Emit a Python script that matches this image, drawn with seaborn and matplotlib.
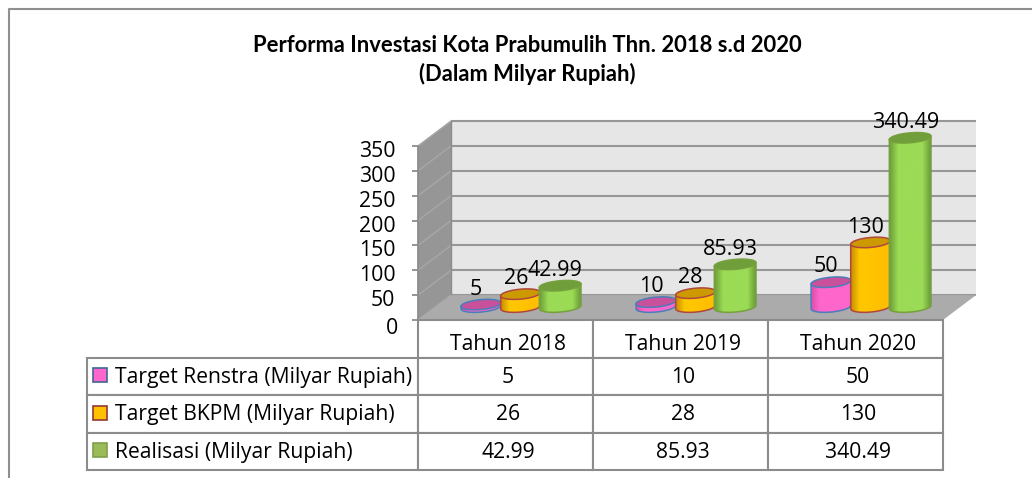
import numpy as np
import pandas as pd
import matplotlib
matplotlib.use('Agg')
import matplotlib.pyplot as plt
import seaborn as sns
from matplotlib.colors import LinearSegmentedColormap
from matplotlib.lines import Line2D
from matplotlib.patches import Polygon, Rectangle
from matplotlib.transforms import Affine2D

categories = ['Tahun 2018', 'Tahun 2019', 'Tahun 2020']
series_names = ['Target Renstra (Milyar Rupiah)', 'Target BKPM (Milyar Rupiah)', 'Realisasi (Milyar Rupiah)']
renstra = [5, 10, 50]
bkpm = [26, 28, 130]
realisasi = [42.99, 85.93, 340.49]
value_labels = [['5', '10', '50'], ['26', '28', '130'], ['42.99', '85.93', '340.49']]
y_ticks = [0, 50, 100, 150, 200, 250, 300, 350]

# body gradient (dark, light, dark), top ellipse, outline, legend key
body_colors = [['#d84fa8', '#ff66cc', '#ff66cc'], ['#c88f00', '#ffc800', '#ffbf00'], ['#6b9a38', '#9bdb55', '#6b9a38']]
top_colors = ['#c9509b', '#cc9900', '#6f9e3a']
edge_colors = ['#4a7ebb', '#b0473f', '#76a03e']
key_colors = ['#ff66cc', '#ffc000', '#9bbb59']
key_edges = ['#3f6797', '#953735', '#7f9f4a']

W, H = 1032, 478
sns.set_theme(style='white')
plt.rcParams['font.family'] = ['Open Sans', 'DejaVu Sans']

df = pd.DataFrame({
    'tahun': categories * 3,
    'seri': [s for s in series_names for _ in categories],
    'nilai': renstra + bkpm + realisasi,
})

fig = plt.figure(figsize=(W / 100, H / 100), dpi=100, facecolor='white')
ax = fig.add_axes([418 / W, 1 - 320 / H, 525 / W, 174 / H])
sns.barplot(data=df, x='tahun', y='nilai', hue='seri', hue_order=series_names, order=categories,
            width=0.68, gap=0, legend=False, ax=ax, zorder=5)
ax.set_xlim(-0.5, 2.5)
ax.set_ylim(0, 350)
ax.patch.set_visible(False)
for s in ax.spines.values():
    s.set_visible(False)
ax.set_xlabel('')
ax.set_ylabel('')

# fake depth, in data units
dep_x = 33 / 175
dep_y = 50
x0, x1 = -0.5, 2.5
grid_c = '#979797'

ax.add_patch(Polygon([(x0 + dep_x, dep_y), (x1 + dep_x, dep_y), (x1 + dep_x, 350 + dep_y), (x0 + dep_x, 350 + dep_y)],
                     fc='#e6e6e6', ec='none', zorder=1, clip_on=False))
ax.add_patch(Polygon([(x0, 0), (x0 + dep_x, dep_y), (x0 + dep_x, 350 + dep_y), (x0, 350)],
                     fc='#969696', ec='none', zorder=1, clip_on=False))
ax.add_patch(Polygon([(x0, 0), (x1, 0), (x1 + dep_x, dep_y), (x0 + dep_x, dep_y)],
                     fc='#ababab', ec='none', zorder=2, clip_on=False))
for t in y_ticks:
    ax.plot([x0 + dep_x, x1 + dep_x], [t + dep_y, t + dep_y], color=grid_c, lw=1.5, zorder=1.5, clip_on=False, solid_capstyle='butt')
    ax.plot([x0, x0 + dep_x], [t, t + dep_y], color='#a6a6a6', lw=1.1, zorder=1.5, clip_on=False)
ax.plot([x0, x0], [0, 350], color='#8c8c8c', lw=1.3, zorder=3, clip_on=False)
ax.plot([x0 + dep_x, x0 + dep_x], [dep_y, 350 + dep_y], color='#8c8c8c', lw=1, zorder=1.6, clip_on=False)

ax.set_xticks([])
ax.set_yticks(y_ticks)
ax.set_yticklabels([str(t) for t in y_ticks], fontsize=15.3, color='black')
ax.tick_params(axis='y', left=True, length=4.3, width=1.3, color='#8c8c8c', pad=12)
for lab, t in zip(ax.get_yticklabels(), y_ticks):
    lab.set_transform(lab.get_transform() + Affine2D().translate(3 if t == 0 else 0, -6 if t == 0 else -3))

# cylinders: seaborn gives the bars, shade them and add the ellipses on top
shift = Affine2D().translate(0.086, 26) + ax.transData
tt = np.linspace(0, 2 * np.pi, 80)
for i, cont in enumerate(ax.containers):
    cmap = LinearSegmentedColormap.from_list('c%d' % i, [(0, body_colors[i][0]), (0.22, body_colors[i][1]),
                                                         (0.8, body_colors[i][2] if i < 2 else body_colors[i][1]),
                                                         (1, body_colors[i][2])])
    for j, bar in enumerate(cont.patches):
        if i == 2:
            bar.set_x(bar.get_x() - 0.006)
            bar.set_width(bar.get_width() * 1.05)
        bar.set_transform(shift)
        bar.set_clip_on(False)
        bar.set_facecolor(body_colors[i][1])
        bar.set_edgecolor('none')
        cx = bar.get_x() + bar.get_width() / 2
        a = bar.get_width() / 2
        v = bar.get_height()
        b, tilt = 10, 3.5  # ellipse half height and slant, data units
        z = 6 + i * 0.1
        low = tt[(tt >= np.pi) & (tt <= 2 * np.pi)]
        xs = np.r_[cx + a * np.cos(low), cx + a, cx - a]
        ys = np.r_[b * np.sin(low) + tilt * np.cos(low), v + tilt, v - tilt]
        body = Polygon(np.c_[xs, ys], transform=shift, fc='none', ec=edge_colors[i], lw=1.1, zorder=z + 0.02, clip_on=False)
        ax.add_patch(body)
        im = ax.imshow(np.linspace(0, 1, 128)[None, :], cmap=cmap, aspect='auto',
                       extent=(cx - a, cx + a, -20, v + 20), transform=shift, zorder=z)
        im.set_clip_box(fig.bbox)
        im.set_clip_path(Polygon(np.c_[xs, ys], transform=shift))
        top = np.c_[cx + a * np.cos(tt), v + b * np.sin(tt) + tilt * np.cos(tt)]
        ax.add_patch(Polygon(top, transform=shift, fc=top_colors[i], ec=edge_colors[i], lw=1.1, zorder=z + 0.03, clip_on=False))
        ax.annotate(value_labels[i][j], xy=(cx, v), xycoords=shift, xytext=(-3.5, 11), textcoords='offset points',
                    ha='center', va='center', fontsize=15.5, color='black', zorder=20, annotation_clip=False)
ax.set_xlim(-0.5, 2.5)
ax.set_ylim(0, 350)

# data table under the plot
rows = [[''] + categories]
for name, vals in zip(series_names, value_labels):
    rows.append([name] + vals)
tb = ax.table(cellText=rows, cellLoc='center', colWidths=[331 / 525, 175 / 525, 175 / 525, 175 / 525],
              bbox=[(87 - 418) / 525, -150 / 174, 856 / 525, 150 / 174], zorder=4)
tb.auto_set_font_size(False)
for (r, c), cell in tb.get_celld().items():
    cell.set_edgecolor('#8c8c8c')
    cell.set_linewidth(1.5)
    cell.set_facecolor('white')
    cell.get_text().set_fontsize(15.2)
    cell.get_text().set_color('black')
    cell.get_text().set_transform(Affine2D().translate(0 if c == 0 else 2.5, -5.5 if r == 0 else -1))
    if c == 0:
        cell.PAD = 28 / 331
        cell.get_text().set_ha('left')
tb[0, 0].visible_edges = ''
tb[0, 0].set_facecolor('none')

for i, top_y in enumerate([368, 405.5, 443]):
    fig.add_artist(Rectangle((93 / W, 1 - (top_y + 14) / H), 14 / W, 14 / H, transform=fig.transFigure,
                             fc=key_colors[i], ec=key_edges[i], lw=1.2))

# outer frame, only left and top show inside the crop
fig.add_artist(Line2D([9 / W, 9 / W, 1], [0, 1 - 9 / H, 1 - 9 / H], color='#8f8f8f', lw=1.5))

fig.text(527 / W, 1 - 46 / H, 'Performa Investasi Kota Prabumulih Thn. 2018 s.d 2020', ha='center', va='center',
         fontsize=15.8, fontweight='bold', color='black', family=['Lato', 'DejaVu Sans'])
fig.text(527 / W, 1 - 74 / H, '(Dalam Milyar Rupiah)', ha='center', va='center',
         fontsize=15.8, fontweight='bold', color='black', family=['Lato', 'DejaVu Sans'])

fig.savefig('out.png', dpi=100)
